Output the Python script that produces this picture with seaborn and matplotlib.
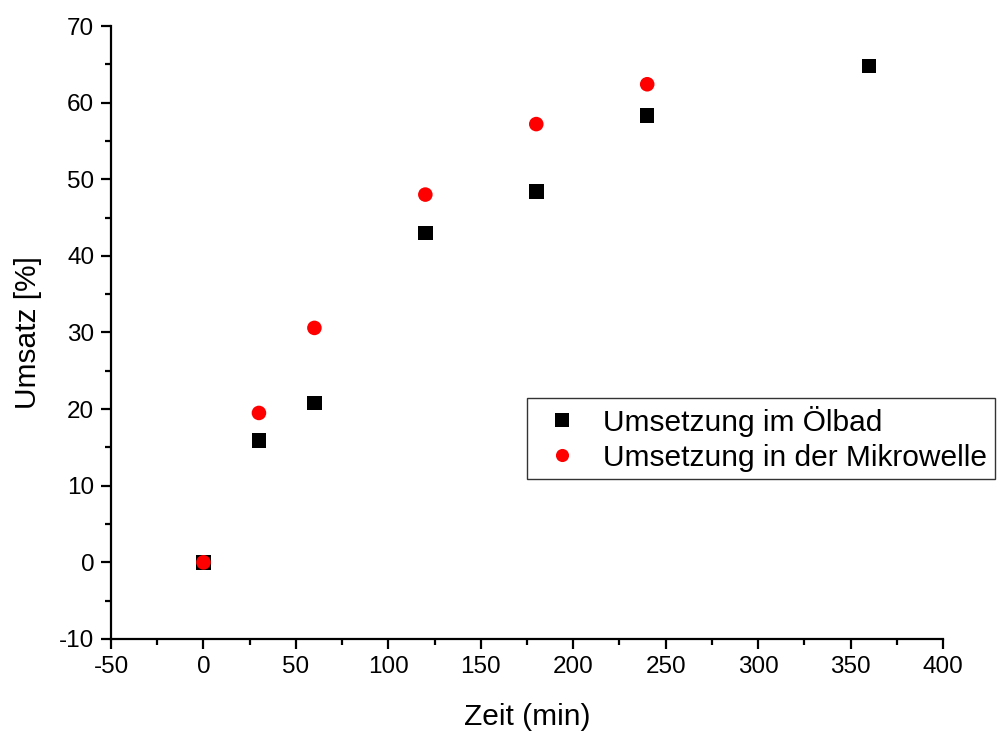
import numpy as np
import pandas as pd
import matplotlib
matplotlib.use("Agg")
import matplotlib.pyplot as plt
import seaborn as sns
from matplotlib.ticker import MultipleLocator

# Reaction conversion over time
zeit_oelbad = [0, 30, 60, 120, 180, 240, 360]
umsatz_oelbad = [0.0, 15.9, 20.8, 43.0, 48.4, 58.3, 64.8]
zeit_mikrowelle = [0, 30, 60, 120, 180, 240]
umsatz_mikrowelle = [0.0, 19.5, 30.6, 48.0, 57.2, 62.4]
serien = ["Umsetzung im Ölbad", "Umsetzung in der Mikrowelle"]

df = pd.concat([
    pd.DataFrame({"Zeit": zeit_oelbad, "Umsatz": umsatz_oelbad, "Serie": serien[0]}),
    pd.DataFrame({"Zeit": zeit_mikrowelle, "Umsatz": umsatz_mikrowelle, "Serie": serien[1]}),
], ignore_index=True)

sns.set_style("ticks")
plt.rcParams["font.family"] = ["Liberation Sans", "DejaVu Sans"]
plt.rcParams["axes.unicode_minus"] = False
plt.rcParams["text.color"] = "black"
plt.rcParams["axes.labelcolor"] = "black"

fig = plt.figure(figsize=(10.03, 7.31), dpi=100)
ax = fig.add_axes([0.1107, 0.1259, 0.8295, 0.8385])

sns.scatterplot(
    data=df, x="Zeit", y="Umsatz", hue="Serie", style="Serie",
    hue_order=serien, style_order=serien,
    palette={serien[0]: "black", serien[1]: "#ff0000"},
    markers={serien[0]: "s", serien[1]: "o"},
    s=110, linewidth=0, ax=ax, legend=True,
)

ax.set_xlim(-50, 400)
ax.set_ylim(-10, 70)
ax.xaxis.set_major_locator(MultipleLocator(50))
ax.xaxis.set_minor_locator(MultipleLocator(25))
ax.yaxis.set_major_locator(MultipleLocator(10))
ax.yaxis.set_minor_locator(MultipleLocator(5))

for side in ("top", "right"):
    ax.spines[side].set_visible(False)
for side in ("left", "bottom"):
    ax.spines[side].set_linewidth(1.6)
    ax.spines[side].set_color("black")

ax.tick_params(which="major", direction="out", length=7, width=1.6, labelsize=17.5,
               colors="black", labelcolor="black", pad=5)
ax.tick_params(which="minor", direction="out", length=4.5, width=1.6, colors="black")

ax.set_xlabel("Zeit (min)", fontsize=21.5, labelpad=18, color="black")
ax.set_ylabel("Umsatz [%]", fontsize=21.5, labelpad=12, color="black")

handles, labels = ax.get_legend_handles_labels()
leg = ax.legend(
    handles, labels, loc="upper left",
    bbox_to_anchor=(527 / 1003, 1 - 398 / 731), bbox_transform=fig.transFigure,
    fontsize=21.5, frameon=True, fancybox=False, shadow=False,
    borderpad=0.26, handletextpad=0.5, labelspacing=0.23, borderaxespad=0,
    handlelength=1.8, markerscale=0.9,
)
leg.get_frame().set_edgecolor("black")
leg.get_frame().set_linewidth(1.0)
for t in leg.get_texts():
    t.set_color("black")

fig.savefig("out.png", dpi=100)
